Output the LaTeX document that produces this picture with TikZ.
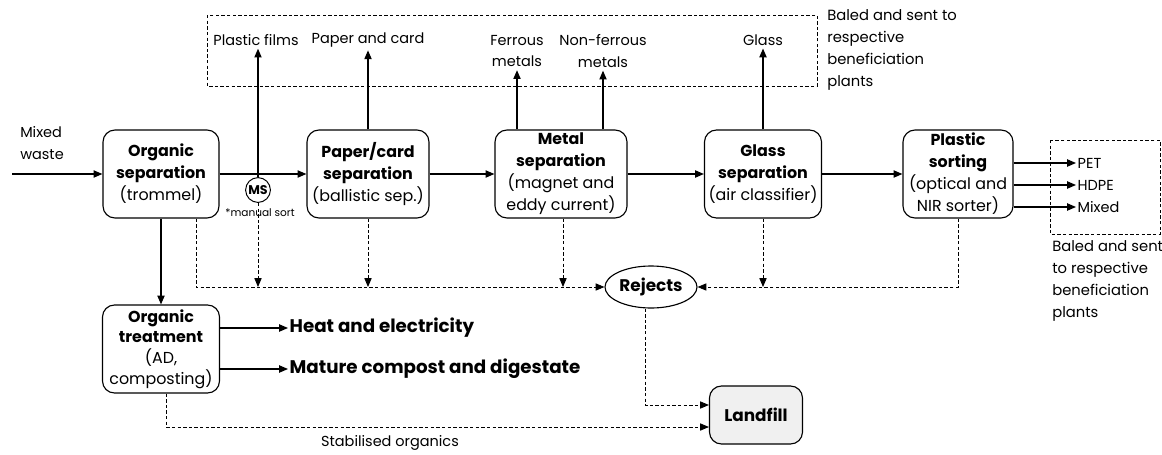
\documentclass[tikz,border=0pt]{standalone}
\usepackage{fontspec}
\setmainfont{Poppins}
\usetikzlibrary{arrows.meta,shapes.geometric}

\tikzset{
  proc/.style={draw,rounded corners=0.3cm,align=center,minimum height=2.2cm,inner sep=0pt,line width=0.8pt,font=\fontsize{11.3}{15.6}\selectfont},
  lbl/.style={align=center,inner sep=2pt,font=\fontsize{10.3}{15.6}\selectfont},
  note/.style={align=left,inner sep=0pt,font=\fontsize{10.5}{15.6}\selectfont},
  prod/.style={anchor=west,inner sep=1pt,font=\fontsize{13}{15}\selectfont\bfseries},
  arr/.style={-{Triangle[length=0.22cm,width=0.18cm]},line width=0.9pt},
  dsh/.style={dash pattern=on 2.4pt off 1.6pt,line width=0.6pt},
  darr/.style={dsh,-{Triangle[length=0.22cm,width=0.18cm]}},
}

\begin{document}
\begin{tikzpicture}[x=0.025cm,y=-0.025cm]
\useasboundingbox (0,0) rectangle (1162,454);

% main sorting line
\node[proc,minimum width=2.9cm] (orgsep) at (161,174) {\textbf{Organic}\\\textbf{separation}\\(trommel)};
\node[proc,minimum width=3.05cm] (paper) at (368,174) {\textbf{Paper/card}\\\textbf{separation}\\(ballistic sep.)};
\node[proc,minimum width=3.3cm] (metal) at (561,174) {\textbf{Metal}\\\textbf{separation}\\(magnet and\\eddy current)};
\node[proc,minimum width=2.925cm] (glass) at (763,174) {\textbf{Glass}\\\textbf{separation}\\(air classifier)};
\node[proc,minimum width=2.75cm] (plastic) at (958,174) {\textbf{Plastic}\\\textbf{sorting}\\(optical and\\NIR sorter)};
\node[proc,minimum width=2.925cm,minimum height=2.2cm,font=\fontsize{11.3}{14.8}\selectfont] (orgtreat) at (161,349) {\textbf{Organic}\\\textbf{treatment}\\(AD,\\composting)};
\node[ellipse,draw,line width=0.8pt,minimum width=2.3cm,minimum height=1.05cm,inner sep=0pt,font=\fontsize{12}{14}\selectfont\bfseries] (rej) at (651,287) {Rejects};
\node[draw,fill=gray!12,rounded corners=0.3cm,line width=0.8pt,minimum width=2.325cm,minimum height=1.45cm,font=\fontsize{12}{14}\selectfont\bfseries] (landfill) at (756,415) {Landfill};
\node[circle,draw,line width=0.7pt,minimum size=0.62cm,inner sep=0pt,font=\fontsize{9}{10}\selectfont\bfseries] (ms) at (258,190) {MS};
\node[inner sep=0pt,font=\fontsize{7.5}{9}\selectfont] (mslbl) at (260,213) {*manual sort};

% recovered materials
\node[lbl] (films) at (256,40) {Plastic films};
\node[lbl] (pc) at (368,40) {Paper and card};
\node[lbl] (fe) at (517,51) {Ferrous\\metals};
\node[lbl] (nfe) at (603,51) {Non-ferrous\\metals};
\node[lbl] (glasslbl) at (763,40) {Glass};
\node[note,anchor=north west] (baled) at (827,9) {Baled and sent to\\respective\\beneficiation\\plants};
\node[note,anchor=north west] (baled2) at (1052,240) {Baled and sent\\to respective\\beneficiation\\plants};
\node[lbl,anchor=west,inner sep=1pt] (pet) at (1076,163) {PET};
\node[lbl,anchor=west,inner sep=1pt] (hdpe) at (1076,185) {HDPE};
\node[lbl,anchor=west,inner sep=1pt] (mixed) at (1076,207) {Mixed};
\node[prod] (heat) at (288,328) {Heat and electricity};
\node[prod] (compost) at (288,369) {Mature compost and digestate};
\node[lbl] (stab) at (390,443) {Stabilised organics};
\node[lbl,align=left] (mixlbl) at (42,143) {Mixed\\waste};
\coordinate (mixin) at (12,174);

\draw[dsh] (207,15) rectangle (817,86);
\draw[dsh] (1050,140) rectangle (1160,234);

% solid flows
\draw[arr] (mixin) -- (orgsep);
\draw[arr] (orgsep) -- (paper);
\draw[arr] (paper) -- (metal);
\draw[arr] (metal) -- (glass);
\draw[arr] (glass) -- (plastic);
\draw[arr] (orgsep) -- (orgtreat);
\draw[arr] (ms.north) -- (ms.north |- films.south);
\draw[arr] (paper) -- (paper |- pc.south);
\draw[arr] (fe |- metal.north) -- (fe.south);
\draw[arr] (nfe |- metal.north) -- (nfe.south);
\draw[arr] (glass) -- (glass |- glasslbl.south);
\draw[arr] (plastic.east |- pet) -- (pet.west);
\draw[arr] (plastic.east |- hdpe) -- (hdpe.west);
\draw[arr] (plastic.east |- mixed) -- (mixed.west);
\draw[arr] (orgtreat.east |- heat) -- (heat.west);
\draw[arr] (orgtreat.east |- compost) -- (compost.west);

% rejects and landfill
\draw[darr] ([xshift=0.875cm]orgsep.south) |- (rej.west);
\draw[darr] (ms.south) -- (ms.south |- rej);
\draw[darr] (paper) -- (paper |- rej);
\draw[darr] ([xshift=0.05cm]metal.south) -- ([xshift=0.05cm]metal.south |- rej);
\draw[darr] (glass) -- (glass |- rej);
\draw[darr] (plastic) |- (rej.east);
\draw[darr] ([xshift=-0.15cm]rej.south) |- ([yshift=0.25cm]landfill.west);
\draw[darr] ([xshift=0.125cm]orgtreat.south) |- ([yshift=-0.3cm]landfill.west);
\end{tikzpicture}
\end{document}
